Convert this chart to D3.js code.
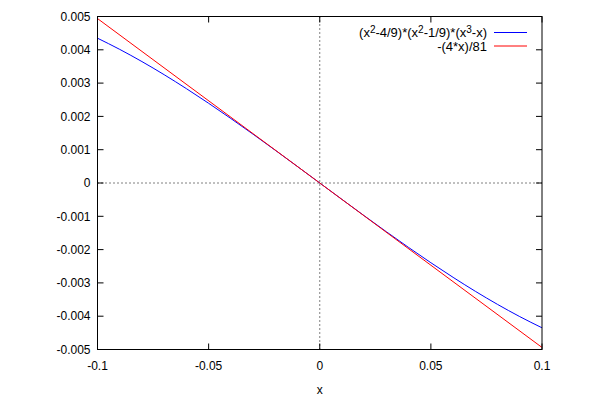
<!DOCTYPE html>
<html><head><meta charset="utf-8">
<script src="https://cdn.jsdelivr.net/npm/d3@7"></script>
<style>body{margin:0;background:#fff}svg{display:block}text{font-family:"Liberation Sans",Arial,sans-serif;font-size:12px;fill:#000}</style>
</head><body><svg id="c" width="600" height="400"></svg>
<script>
const xs = [-0.1,-0.09,-0.08,-0.07,-0.06,-0.05,-0.04,-0.03,-0.02,-0.01,0,0.01,0.02,0.03,0.04,0.05,0.06,0.07,0.08,0.09,0.1];
const polyVals = [0.0043487,0.0040126,0.0036460,0.0032519,0.0028335,0.0023940,0.0019368,0.0014652,0.00098282,0.00049322,0,-0.00049322,-0.00098282,-0.0014652,-0.0019368,-0.0023940,-0.0028335,-0.0032519,-0.0036460,-0.0040126,-0.0043487];
const lineXs = [-0.1, 0.1];
const lineVals = [0.0049383, -0.0049383];
const xTicks = [-0.1,-0.05,0,0.05,0.1];
const yTicks = [-0.005,-0.004,-0.003,-0.002,-0.001,0,0.001,0.002,0.003,0.004,0.005];
const seriesNames = ["(x2-4/9)*(x2-1/9)*(x3-x)", "-(4*x)/81"];
const colors = ["#0000ff", "#ff0000"];

const L=97.5,R=542,T=16.5,B=349.5;
const svg=d3.select("#c");
const x=d3.scaleLinear().domain([-0.1,0.1]).range([L,R]);
const y=d3.scaleLinear().domain([-0.005,0.005]).range([B,T]);
const fmt=v=>{ if(v===0) return "0"; return String(+v.toFixed(4)); };

svg.append("line").attr("x1",x(0)).attr("x2",x(0)).attr("y1",T).attr("y2",B).attr("stroke","#000").attr("stroke-dasharray","1,3");
svg.append("line").attr("x1",L).attr("x2",R).attr("y1",y(0)).attr("y2",y(0)).attr("stroke","#000").attr("stroke-dasharray","1,3");

const tl=6;
const g=svg.append("g");
yTicks.forEach(v=>{
  g.append("line").attr("x1",L).attr("x2",L+tl).attr("y1",y(v)).attr("y2",y(v)).attr("stroke","#000");
  g.append("line").attr("x1",R).attr("x2",R-tl).attr("y1",y(v)).attr("y2",y(v)).attr("stroke","#000");
  g.append("text").attr("x",L-7).attr("y",y(v)).attr("dy","0.35em").attr("text-anchor","end").text(fmt(v));
});
xTicks.forEach(v=>{
  g.append("line").attr("x1",x(v)).attr("x2",x(v)).attr("y1",B).attr("y2",B-tl).attr("stroke","#000");
  g.append("line").attr("x1",x(v)).attr("x2",x(v)).attr("y1",T).attr("y2",T+tl).attr("stroke","#000");
  g.append("text").attr("x",x(v)).attr("y",B+16).attr("dy","0.35em").attr("text-anchor","middle").text(fmt(v));
});
svg.append("text").attr("x",(L+R)/2).attr("y",394).attr("text-anchor","middle").text("x");

svg.append("defs").append("clipPath").attr("id","clip").append("rect").attr("x",L).attr("y",T).attr("width",R-L).attr("height",B-T);
const line=d3.line().x(d=>x(d[0])).y(d=>y(d[1])).curve(d3.curveMonotoneX);
const cg=svg.append("g").attr("clip-path","url(#clip)");
cg.append("path").datum(xs.map((v,i)=>[v,polyVals[i]])).attr("d",line).attr("fill","none").attr("stroke",colors[0]).attr("stroke-width",1);
cg.append("path").datum(lineXs.map((v,i)=>[v,lineVals[i]])).attr("d",line).attr("fill","none").attr("stroke",colors[1]).attr("stroke-width",1);

svg.append("rect").attr("x",L).attr("y",T).attr("width",R-L).attr("height",B-T).attr("fill","none").attr("stroke","#000");

// legend
const leg=svg.append("g");
const t1=leg.append("text").attr("x",487).attr("y",37).attr("text-anchor","end").style("font-size","13px");
const parts = seriesNames[0].match(/x\d|[^x]+|x/g);
parts.forEach(p=>{
  if(/^x\d$/.test(p)){
    t1.append("tspan").text("x");
    t1.append("tspan").attr("baseline-shift","40%").attr("font-size","10px").text(p[1]);
  } else t1.append("tspan").text(p);
});
leg.append("text").attr("x",487).attr("y",50.5).attr("text-anchor","end").style("font-size","13px").text(seriesNames[1]);
[32.5,46].forEach((yy,i)=>leg.append("line").attr("x1",494).attr("x2",527).attr("y1",yy).attr("y2",yy).attr("stroke",colors[i]));
</script></body></html>
